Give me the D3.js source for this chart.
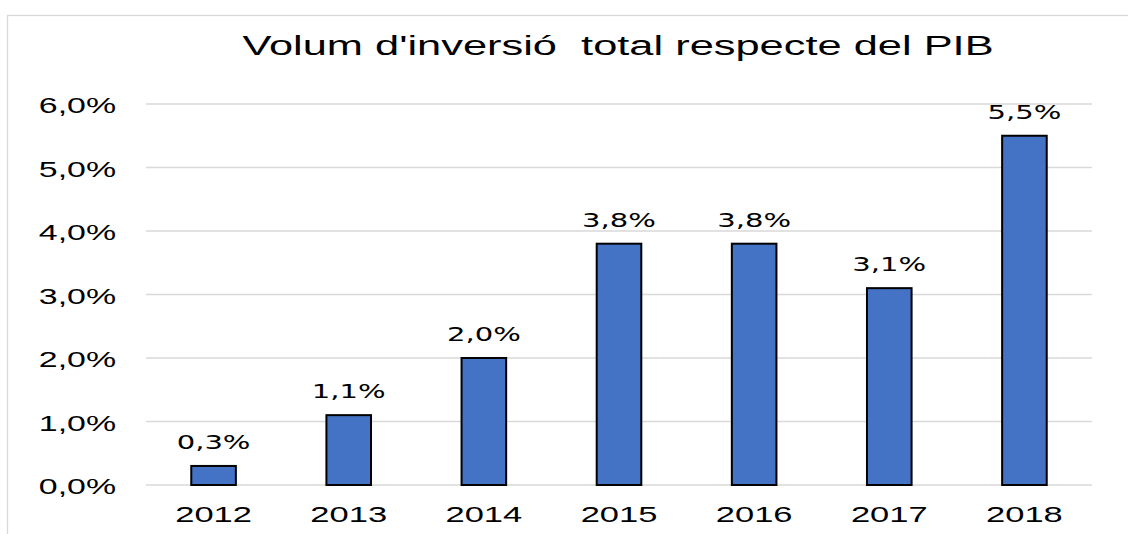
<!DOCTYPE html>
<html><head><meta charset="utf-8">
<script src="https://cdn.jsdelivr.net/npm/d3@7"></script>
<style>body{margin:0;background:#fff}svg{display:block}</style>
</head><body>
<svg id="c" width="1128" height="534"></svg>
<script>
const title = "Volum d'inversió  total respecte del PIB";
const categories = ["2012","2013","2014","2015","2016","2017","2018"];
const values = [0.3, 1.1, 2.0, 3.8, 3.8, 3.1, 5.5];
const yTicks = [0,1,2,3,4,5,6];

const svg = d3.select("#c");
const fmt = v => v.toFixed(1).replace(".", ",") + "%";

svg.append("rect").attr("x",7.5).attr("y",15.5).attr("width",1140).attr("height",540)
  .attr("fill","#fff").attr("stroke","#d9d9d9").attr("stroke-width",1.3);

const m = {left:146, right:1092, top:104, bottom:485};
const x = d3.scaleBand().domain(categories).range([m.left, m.right]).paddingInner(0.67).paddingOuter(0.335);
const y = d3.scaleLinear().domain([0,6]).range([m.bottom, m.top]);

function txt(g, px, py, s, anchor, family, size, sx){
  return g.append("text").attr("transform",`translate(${px},${py}) scale(${sx || 1.52},1)`)
    .attr("text-anchor",anchor).attr("font-family",family).attr("font-size",size)
    .attr("fill","#000").style("white-space","pre").text(s);
}

// gridlines
svg.append("g").selectAll("line").data(yTicks).join("line")
  .attr("x1",m.left).attr("x2",m.right)
  .attr("y1",d=>y(d)).attr("y2",d=>y(d))
  .attr("stroke","#d9d9d9").attr("stroke-width",1.3);

// y labels
const gy = svg.append("g");
yTicks.forEach(d => txt(gy, 116, y(d)+9, fmt(d), "end", "Liberation Sans, Arial, sans-serif", 22, 1.54));

// bars
svg.append("g").selectAll("rect").data(values).join("rect")
  .attr("x",(d,i)=>x(categories[i])).attr("width",x.bandwidth())
  .attr("y",d=>y(d)).attr("height",d=>y(0)-y(d))
  .attr("fill","#4472C4").attr("stroke","#000").attr("stroke-width",2);

// data labels
const gl = svg.append("g");
values.forEach((d,i)=> txt(gl, x(categories[i])+x.bandwidth()/2, y(d)-17, fmt(d), "middle", "DejaVu Sans, Verdana, sans-serif", 19, 1.53));

// x labels
const gx = svg.append("g");
categories.forEach(c => txt(gx, x(c)+x.bandwidth()/2, 522, c, "middle", "Liberation Sans, Arial, sans-serif", 23, 1.5));

// title
txt(svg, 618, 55, title, "middle", "Liberation Sans, Arial, sans-serif", 28, 1.55);
</script>
</body></html>
